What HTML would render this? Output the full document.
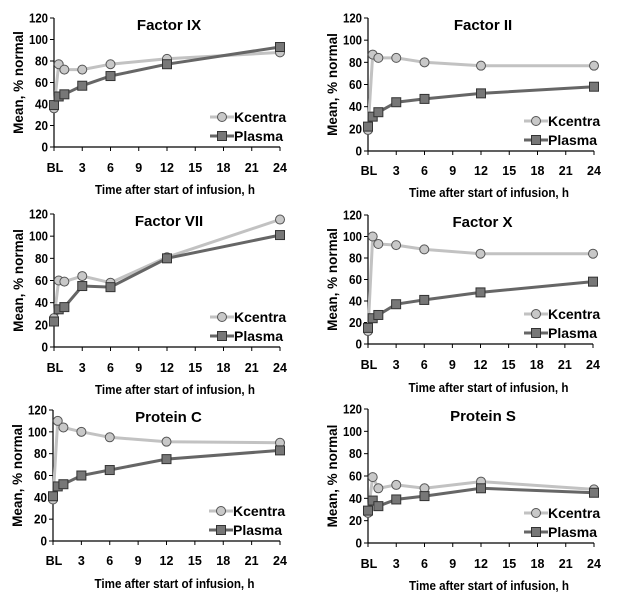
<!DOCTYPE html>
<html><head><meta charset="utf-8"><style>
html,body{margin:0;padding:0;background:#fff;}
svg{display:block;font-family:"Liberation Sans",Arial,sans-serif;font-weight:bold;}
</style></head><body>
<svg id="s" width="627" height="596" viewBox="0 0 627 596" xmlns="http://www.w3.org/2000/svg"></svg>
<script>
const panels=[
 {t:"Factor IX",x0:54,x1:280,yt:18,yb:147,lab:167,xl:189,K:[36,77,72,72,77,82,88],P:[39,47,49,57,66,77,93]},
 {t:"Factor II",x0:368,x1:594,yt:18,yb:151,lab:170,xl:192,K:[19,87,84,84,80,77,77],P:[22,31,35,44,47,52,58]},
 {t:"Factor VII",x0:54,x1:280,yt:214,yb:347,lab:367,xl:389,K:[26,60,59,64,58,81,115],P:[23,34,36,55,54,80,101]},
 {t:"Factor X",x0:368,x1:593,yt:215,yb:344,lab:364,xl:387,K:[12,100,93,92,88,84,84],P:[15,24,27,37,41,48,58]},
 {t:"Protein C",x0:53,x1:280,yt:410,yb:541,lab:560,xl:583,K:[38,110,104,100,95,91,90],P:[41,50,52,60,65,75,83]},
 {t:"Protein S",x0:368,x1:594,yt:409,yb:543,lab:563,xl:585,K:[27,59,49,52,49,55,48],P:[29,38,33,39,42,49,45]}
];
const T=[0,0.5,1.1,3,6,12,24];
let h="";
for(const p of panels){
 const sx=t=>p.x0+(p.x1-p.x0)*t/24, sy=v=>p.yb-(p.yb-p.yt)*v/120;
 h+=`<line x1="${p.x0}" y1="${p.yt}" x2="${p.x0}" y2="${p.yb}" stroke="#000" stroke-width="1.2"/>`;
 h+=`<line x1="${p.x0}" y1="${p.yb}" x2="${p.x1}" y2="${p.yb}" stroke="#000" stroke-width="1.2"/>`;
 for(let v=0;v<=120;v+=20){const y=sy(v);h+=`<line x1="${p.x0-4}" y1="${y}" x2="${p.x0}" y2="${y}" stroke="#000"/>`;
  h+=`<text x="${p.x0-6}" y="${y+4.5}" font-size="12.5" text-anchor="end" textLength="${v>=100?19:(v==0?6.5:13)}" lengthAdjust="spacingAndGlyphs">${v}</text>`;}
 for(let t=0;t<=24;t+=3){const x=sx(t);h+=`<line x1="${x}" y1="${p.yb}" x2="${x}" y2="${p.yb+4}" stroke="#000"/>`;
  h+=`<text x="${t==0?x+1:x}" y="${p.lab+5}" font-size="12.5" text-anchor="middle">${t==0?"BL":t}</text>`;}
 h+=`<text x="${(p.x0+p.x1)/2+8}" y="${p.xl+5}" font-size="12.5" text-anchor="middle" textLength="160" lengthAdjust="spacingAndGlyphs">Time after start of infusion, h</text>`;
 const ym=(p.yt+p.yb)/2;
 h+=`<text transform="translate(${p.x0-31},${ym}) rotate(-90)" font-size="13.5" text-anchor="middle">Mean, % normal</text>`;
 h+=`<text x="${(p.x0+p.x1)/2+2}" y="${p.yt+12}" font-size="15" text-anchor="middle">${p.t}</text>`;
 const pts=a=>a.map((v,i)=>sx(T[i]).toFixed(1)+","+sy(v).toFixed(1)).join(" ");
 h+=`<polyline points="${pts(p.K)}" fill="none" stroke="#c2c2c2" stroke-width="3"/>`;
 h+=`<polyline points="${pts(p.P)}" fill="none" stroke="#666" stroke-width="3"/>`;
 p.K.forEach((v,i)=>h+=`<circle cx="${sx(T[i])}" cy="${sy(v)}" r="4.5" fill="#c8c8c8" stroke="#555" stroke-width="1"/>`);
 p.P.forEach((v,i)=>h+=`<rect x="${sx(T[i])-4.5}" y="${sy(v)-4.5}" width="9" height="9" fill="#777" stroke="#333" stroke-width="1"/>`);
 const lx=p.x0+168, ly1=p.yb-30, ly2=p.yb-11;
 h+=`<line x1="${lx-12}" y1="${ly1}" x2="${lx+12}" y2="${ly1}" stroke="#c2c2c2" stroke-width="3"/><circle cx="${lx}" cy="${ly1}" r="4.5" fill="#c8c8c8" stroke="#555"/>`;
 h+=`<text x="${lx+12}" y="${ly1+5}" font-size="14">Kcentra</text>`;
 h+=`<line x1="${lx-12}" y1="${ly2}" x2="${lx+12}" y2="${ly2}" stroke="#666" stroke-width="3"/><rect x="${lx-4.5}" y="${ly2-4.5}" width="9" height="9" fill="#777" stroke="#333"/>`;
 h+=`<text x="${lx+12}" y="${ly2+5}" font-size="14">Plasma</text>`;
}
document.getElementById("s").innerHTML=h;
</script>
</body></html>
